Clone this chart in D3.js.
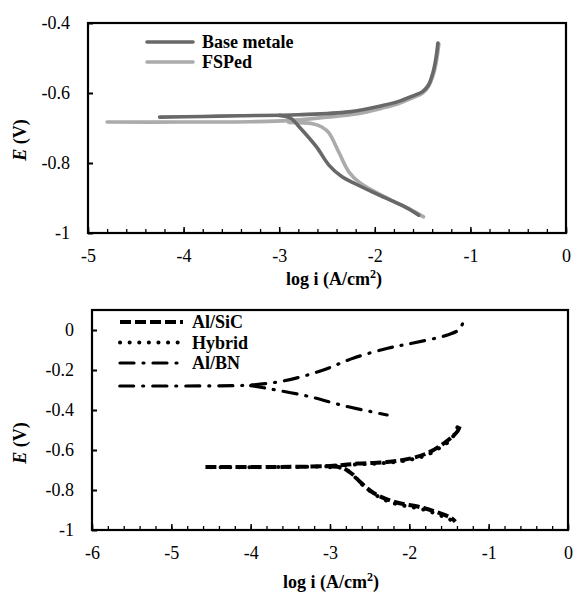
<!DOCTYPE html>
<html>
<head>
<meta charset="utf-8">
<script src="https://cdn.jsdelivr.net/npm/d3@7"></script>
<style>
body { margin: 0; background: #fff; }
text { font-family: "Liberation Serif", "Times New Roman", serif; }
</style>
</head>
<body>
<svg width="574" height="594"></svg>
<script>
// top panel: [log i, E]
var baseAnodic = [[-4.25,-0.669],[-3.8,-0.667],[-3.4,-0.665],[-2.8,-0.662],[-2.27,-0.654],[-1.92,-0.636],
  [-1.75,-0.624],[-1.6,-0.608],[-1.5,-0.596],[-1.44,-0.578],[-1.39,-0.54],[-1.36,-0.5],[-1.34,-0.457]];
var baseCathodic = [[-3.0,-0.664],[-2.88,-0.672],[-2.78,-0.7],[-2.61,-0.754],[-2.48,-0.806],[-2.35,-0.838],
  [-2.2,-0.86],[-1.96,-0.891],[-1.68,-0.926],[-1.54,-0.949]];
var fspAnodic = [[-4.8,-0.683],[-4.0,-0.683],[-3.3,-0.682],[-2.9,-0.679],[-2.5,-0.669],[-2.2,-0.66],[-1.92,-0.643],
  [-1.75,-0.63],[-1.6,-0.613],[-1.5,-0.6],[-1.44,-0.582],[-1.38,-0.54],[-1.35,-0.5],[-1.33,-0.46]];
var fspCathodic = [[-2.9,-0.684],[-2.65,-0.688],[-2.55,-0.698],[-2.48,-0.714],[-2.375,-0.77],[-2.27,-0.826],
  [-2.15,-0.858],[-1.85,-0.903],[-1.6,-0.937],[-1.49,-0.954]];

// bottom panel
var sicAnodic = [[-4.57,-0.685],[-4.0,-0.685],[-3.5,-0.684],[-3.0,-0.68],[-2.65,-0.668],[-2.28,-0.66],[-1.98,-0.642],
  [-1.77,-0.615],[-1.57,-0.568],[-1.45,-0.53],[-1.39,-0.505],[-1.36,-0.475]];
var sicCathodic = [[-3.0,-0.683],[-2.85,-0.688],[-2.72,-0.72],[-2.62,-0.76],[-2.45,-0.815],[-2.2,-0.858],
  [-1.82,-0.89],[-1.48,-0.938],[-1.42,-0.958]];
var hybAnodic = [[-4.5,-0.686],[-3.5,-0.685],[-3.0,-0.681],[-2.65,-0.672],[-2.28,-0.664],[-1.98,-0.648],
  [-1.77,-0.623],[-1.6,-0.585],[-1.48,-0.55],[-1.42,-0.51],[-1.38,-0.475],[-1.36,-0.462]];
var hybCathodic = [[-3.0,-0.686],[-2.82,-0.693],[-2.7,-0.73],[-2.6,-0.77],[-2.42,-0.826],[-2.2,-0.866],
  [-1.82,-0.898],[-1.5,-0.945],[-1.43,-0.962]];
var bnAnodic = [[-5.65,-0.28],[-5.0,-0.28],[-4.4,-0.279],[-4.0,-0.275],[-3.59,-0.255],[-3.12,-0.205],[-2.7,-0.14],
  [-2.26,-0.09],[-1.95,-0.065],[-1.52,-0.025],[-1.38,0.0],[-1.33,0.03],[-1.29,0.065]];
var bnCathodic = [[-4.0,-0.278],[-3.75,-0.295],[-3.29,-0.33],[-2.81,-0.38],[-2.28,-0.425]];

var topXTicks = [-5,-4,-3,-2,-1,0];
var topYTicks = [-1,-0.8,-0.6,-0.4];
var botXTicks = [-6,-5,-4,-3,-2,-1,0];
var botYTicks = [-1,-0.8,-0.6,-0.4,-0.2,0];

var svg = d3.select("svg");

// plain hyphen minus, like the original
function fmt(d){
  var v = Math.round(d*10)/10;
  return (v < 0 ? "-" : "") + String(Math.abs(v));
}

function panel(opt){
  var x = d3.scaleLinear().domain(opt.xd).range(opt.xr);
  var y = d3.scaleLinear().domain(opt.yd).range(opt.yr);
  var g = svg.append("g");

  // minor x ticks
  var minor = d3.range(opt.xd[0], opt.xd[1]+0.001, 0.2);
  g.append("g").attr("transform","translate(0,"+opt.yr[0]+")")
    .call(d3.axisBottom(x).tickValues(minor).tickSize(-4).tickFormat(""))
    .call(a=>a.select(".domain").remove())
    .selectAll("line").attr("stroke","#000").attr("stroke-width",1.3);

  g.append("g").attr("transform","translate(0,"+opt.yr[0]+")")
    .call(d3.axisBottom(x).tickValues(opt.xt).tickSize(-6).tickPadding(16).tickFormat(fmt))
    .call(a=>a.select(".domain").remove())
    .call(a=>a.selectAll("line").attr("stroke","#000").attr("stroke-width",1.5))
    .call(a=>a.selectAll("text").attr("font-size",18).attr("font-family","Liberation Serif").attr("fill","#000"));

  g.append("g").attr("transform","translate("+opt.xr[0]+",0)")
    .call(d3.axisLeft(y).tickValues(opt.yt).tickSize(-5).tickPadding(18).tickFormat(fmt))
    .call(a=>a.select(".domain").remove())
    .call(a=>a.selectAll("line").attr("stroke","#000").attr("stroke-width",2))
    .call(a=>a.selectAll("text").attr("font-size",18).attr("font-family","Liberation Serif").attr("fill","#000"));

  g.append("rect").attr("x",opt.xr[0]).attr("y",opt.yr[1])
    .attr("width",opt.xr[1]-opt.xr[0]).attr("height",opt.yr[0]-opt.yr[1])
    .attr("fill","none").attr("stroke","#000").attr("stroke-width",2.2);

  var line = d3.line().x(d=>x(d[0])).y(d=>y(d[1])).curve(d3.curveCatmullRom.alpha(0.5));
  opt.series.forEach(function(s){
    s.data.forEach(function(arr){
      g.append("path").attr("d",line(arr)).attr("fill","none")
        .attr("stroke",s.color).attr("stroke-width",s.width)
        .attr("stroke-dasharray",s.dash||null).attr("stroke-linecap",s.cap||"round")
        .attr("stroke-linejoin","round");
    });
  });

  // legend
  opt.legend.forEach(function(s,i){
    var ly = opt.legendY + i*opt.legendStep;
    g.append("line").attr("x1",opt.legendX).attr("x2",opt.legendX+opt.legendLen)
      .attr("y1",ly).attr("y2",ly).attr("stroke",s.color).attr("stroke-width",s.width)
      .attr("stroke-dasharray",s.dash||null).attr("stroke-linecap",s.cap||"round");
    g.append("text").attr("x",opt.legendX+opt.legendLen+9).attr("y",ly+6)
      .attr("font-size",18).attr("font-weight","bold").text(s.name);
  });

  var t = g.append("text").attr("x",opt.titleX).attr("y",opt.titleY).attr("text-anchor","middle")
    .attr("font-size",18).attr("font-weight","bold");
  t.append("tspan").text("log i (A/cm");
  t.append("tspan").attr("font-size",12).attr("dy",-7).text("2");
  t.append("tspan").attr("dy",7).text(")");

  var yl = g.append("text").attr("transform","translate(26,"+opt.ylabY+") rotate(-90)")
    .attr("text-anchor","middle").attr("font-size",18).attr("font-weight","bold");
  yl.append("tspan").attr("font-style","italic").text("E");
  yl.append("tspan").text(" (V)");
}

var baseS = {name:"Base metale", color:"#686868", width:3.6, data:[baseAnodic, baseCathodic]};
var fspS = {name:"FSPed", color:"#ababab", width:3.6, data:[fspAnodic, fspCathodic]};
panel({
  xd:[-5,0], xr:[88,566], yd:[-1,-0.4], yr:[233,23], xt:topXTicks, yt:topYTicks,
  series:[fspS, baseS], legend:[baseS, fspS],
  legendX:147, legendY:42, legendStep:20, legendLen:46,
  titleX:334, titleY:285, ylabY:140
});

var sicS = {name:"Al/SiC", color:"#000", width:4, dash:"11 4", cap:"butt", data:[sicAnodic, sicCathodic]};
var hybS = {name:"Hybrid", color:"#000", width:4, dash:"0.1 9.5", cap:"round", data:[hybAnodic, hybCathodic]};
var bnS = {name:"Al/BN", color:"#000", width:3.2, dash:"14 9 1 9", cap:"round", data:[bnAnodic, bnCathodic]};
panel({
  xd:[-6,0], xr:[92,568], yd:[-1,0.1], yr:[530,310], xt:botXTicks, yt:botYTicks,
  series:[sicS, hybS, bnS], legend:[sicS, hybS, bnS],
  legendX:120, legendY:322, legendStep:20.5, legendLen:63,
  titleX:331, titleY:588, ylabY:443
});
</script>
</body>
</html>
